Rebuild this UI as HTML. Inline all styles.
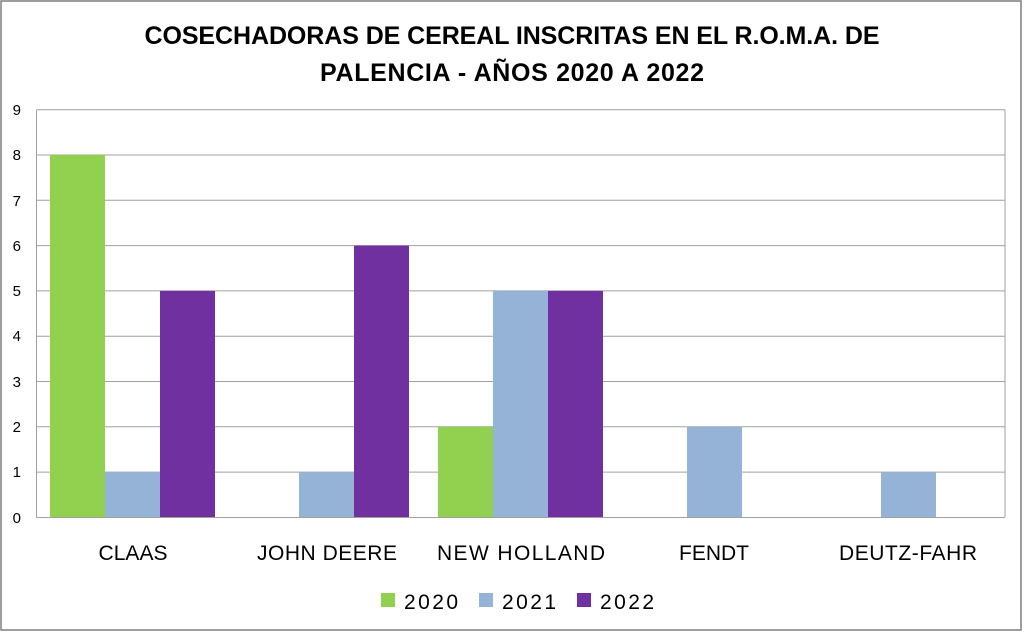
<!DOCTYPE html>
<html><head><meta charset="utf-8"><style>body{margin:0;background:#fff}</style></head><body>
<svg width="1024" height="633" xmlns="http://www.w3.org/2000/svg" font-family="Liberation Sans, Arial, sans-serif">
<rect x="0" y="0" width="1024" height="633" fill="#fff"/>
<rect x="1" y="1" width="1020" height="629" fill="none" stroke="#7f7f7f" stroke-width="1.5"/>
<text x="512" y="44" text-anchor="middle" font-size="25" font-weight="bold" fill="#000" textLength="735">COSECHADORAS DE CEREAL INSCRITAS EN EL R.O.M.A.  DE</text>
<text x="512" y="81" text-anchor="middle" font-size="25" font-weight="bold" fill="#000" textLength="384">PALENCIA - AÑOS 2020 A 2022</text>
<g stroke="#a0a0a0" stroke-width="1">
<line x1="36.5" y1="109.7" x2="1005" y2="109.7"/>
<line x1="36.5" y1="155" x2="1005" y2="155"/>
<line x1="36.5" y1="200.3" x2="1005" y2="200.3"/>
<line x1="36.5" y1="245.6" x2="1005" y2="245.6"/>
<line x1="36.5" y1="290.9" x2="1005" y2="290.9"/>
<line x1="36.5" y1="336.2" x2="1005" y2="336.2"/>
<line x1="36.5" y1="381.5" x2="1005" y2="381.5"/>
<line x1="36.5" y1="426.8" x2="1005" y2="426.8"/>
<line x1="36.5" y1="472.1" x2="1005" y2="472.1"/>
<line x1="36.5" y1="109.7" x2="36.5" y2="517.5"/>
<line x1="1005" y1="109.7" x2="1005" y2="517.5"/>
</g>
<g font-size="15" fill="#000" text-anchor="end">
<text x="21" y="115">9</text><text x="21" y="160">8</text><text x="21" y="206">7</text><text x="21" y="251">6</text><text x="21" y="296">5</text><text x="21" y="341">4</text><text x="21" y="387">3</text><text x="21" y="432">2</text><text x="21" y="477">1</text><text x="21" y="523">0</text>
</g>
<g>
<rect x="50" y="155" width="55" height="362.4" fill="#92d050"/>
<rect x="105" y="472.1" width="55" height="45.3" fill="#95b3d7"/>
<rect x="160" y="290.9" width="55" height="226.5" fill="#7030a0"/>
<rect x="299" y="472.1" width="55" height="45.3" fill="#95b3d7"/>
<rect x="354" y="245.6" width="55" height="271.8" fill="#7030a0"/>
<rect x="438" y="426.8" width="55" height="90.6" fill="#92d050"/>
<rect x="493" y="290.9" width="55" height="226.5" fill="#95b3d7"/>
<rect x="548" y="290.9" width="55" height="226.5" fill="#7030a0"/>
<rect x="687" y="426.8" width="55" height="90.6" fill="#95b3d7"/>
<rect x="881" y="472.1" width="55" height="45.3" fill="#95b3d7"/>
</g>
<line x1="36.5" y1="517.5" x2="1005" y2="517.5" stroke="#a0a0a0"/>
<g font-size="21" fill="#000" text-anchor="middle">
<text x="133" y="560" textLength="69">CLAAS</text>
<text x="327" y="560" textLength="140">JOHN DEERE</text>
<text x="521" y="560" textLength="168">NEW HOLLAND</text>
<text x="714" y="560">FENDT</text>
<text x="908" y="560" textLength="138">DEUTZ-FAHR</text>
</g>
<g font-size="21" fill="#000">
<rect x="381" y="593" width="14" height="14" fill="#92d050"/><text x="404" y="609" textLength="54">2020</text>
<rect x="479" y="593" width="14" height="14" fill="#95b3d7"/><text x="502" y="609" textLength="54">2021</text>
<rect x="577" y="593" width="14" height="14" fill="#7030a0"/><text x="600" y="609" textLength="54">2022</text>
</g>
</svg>
</body></html>
